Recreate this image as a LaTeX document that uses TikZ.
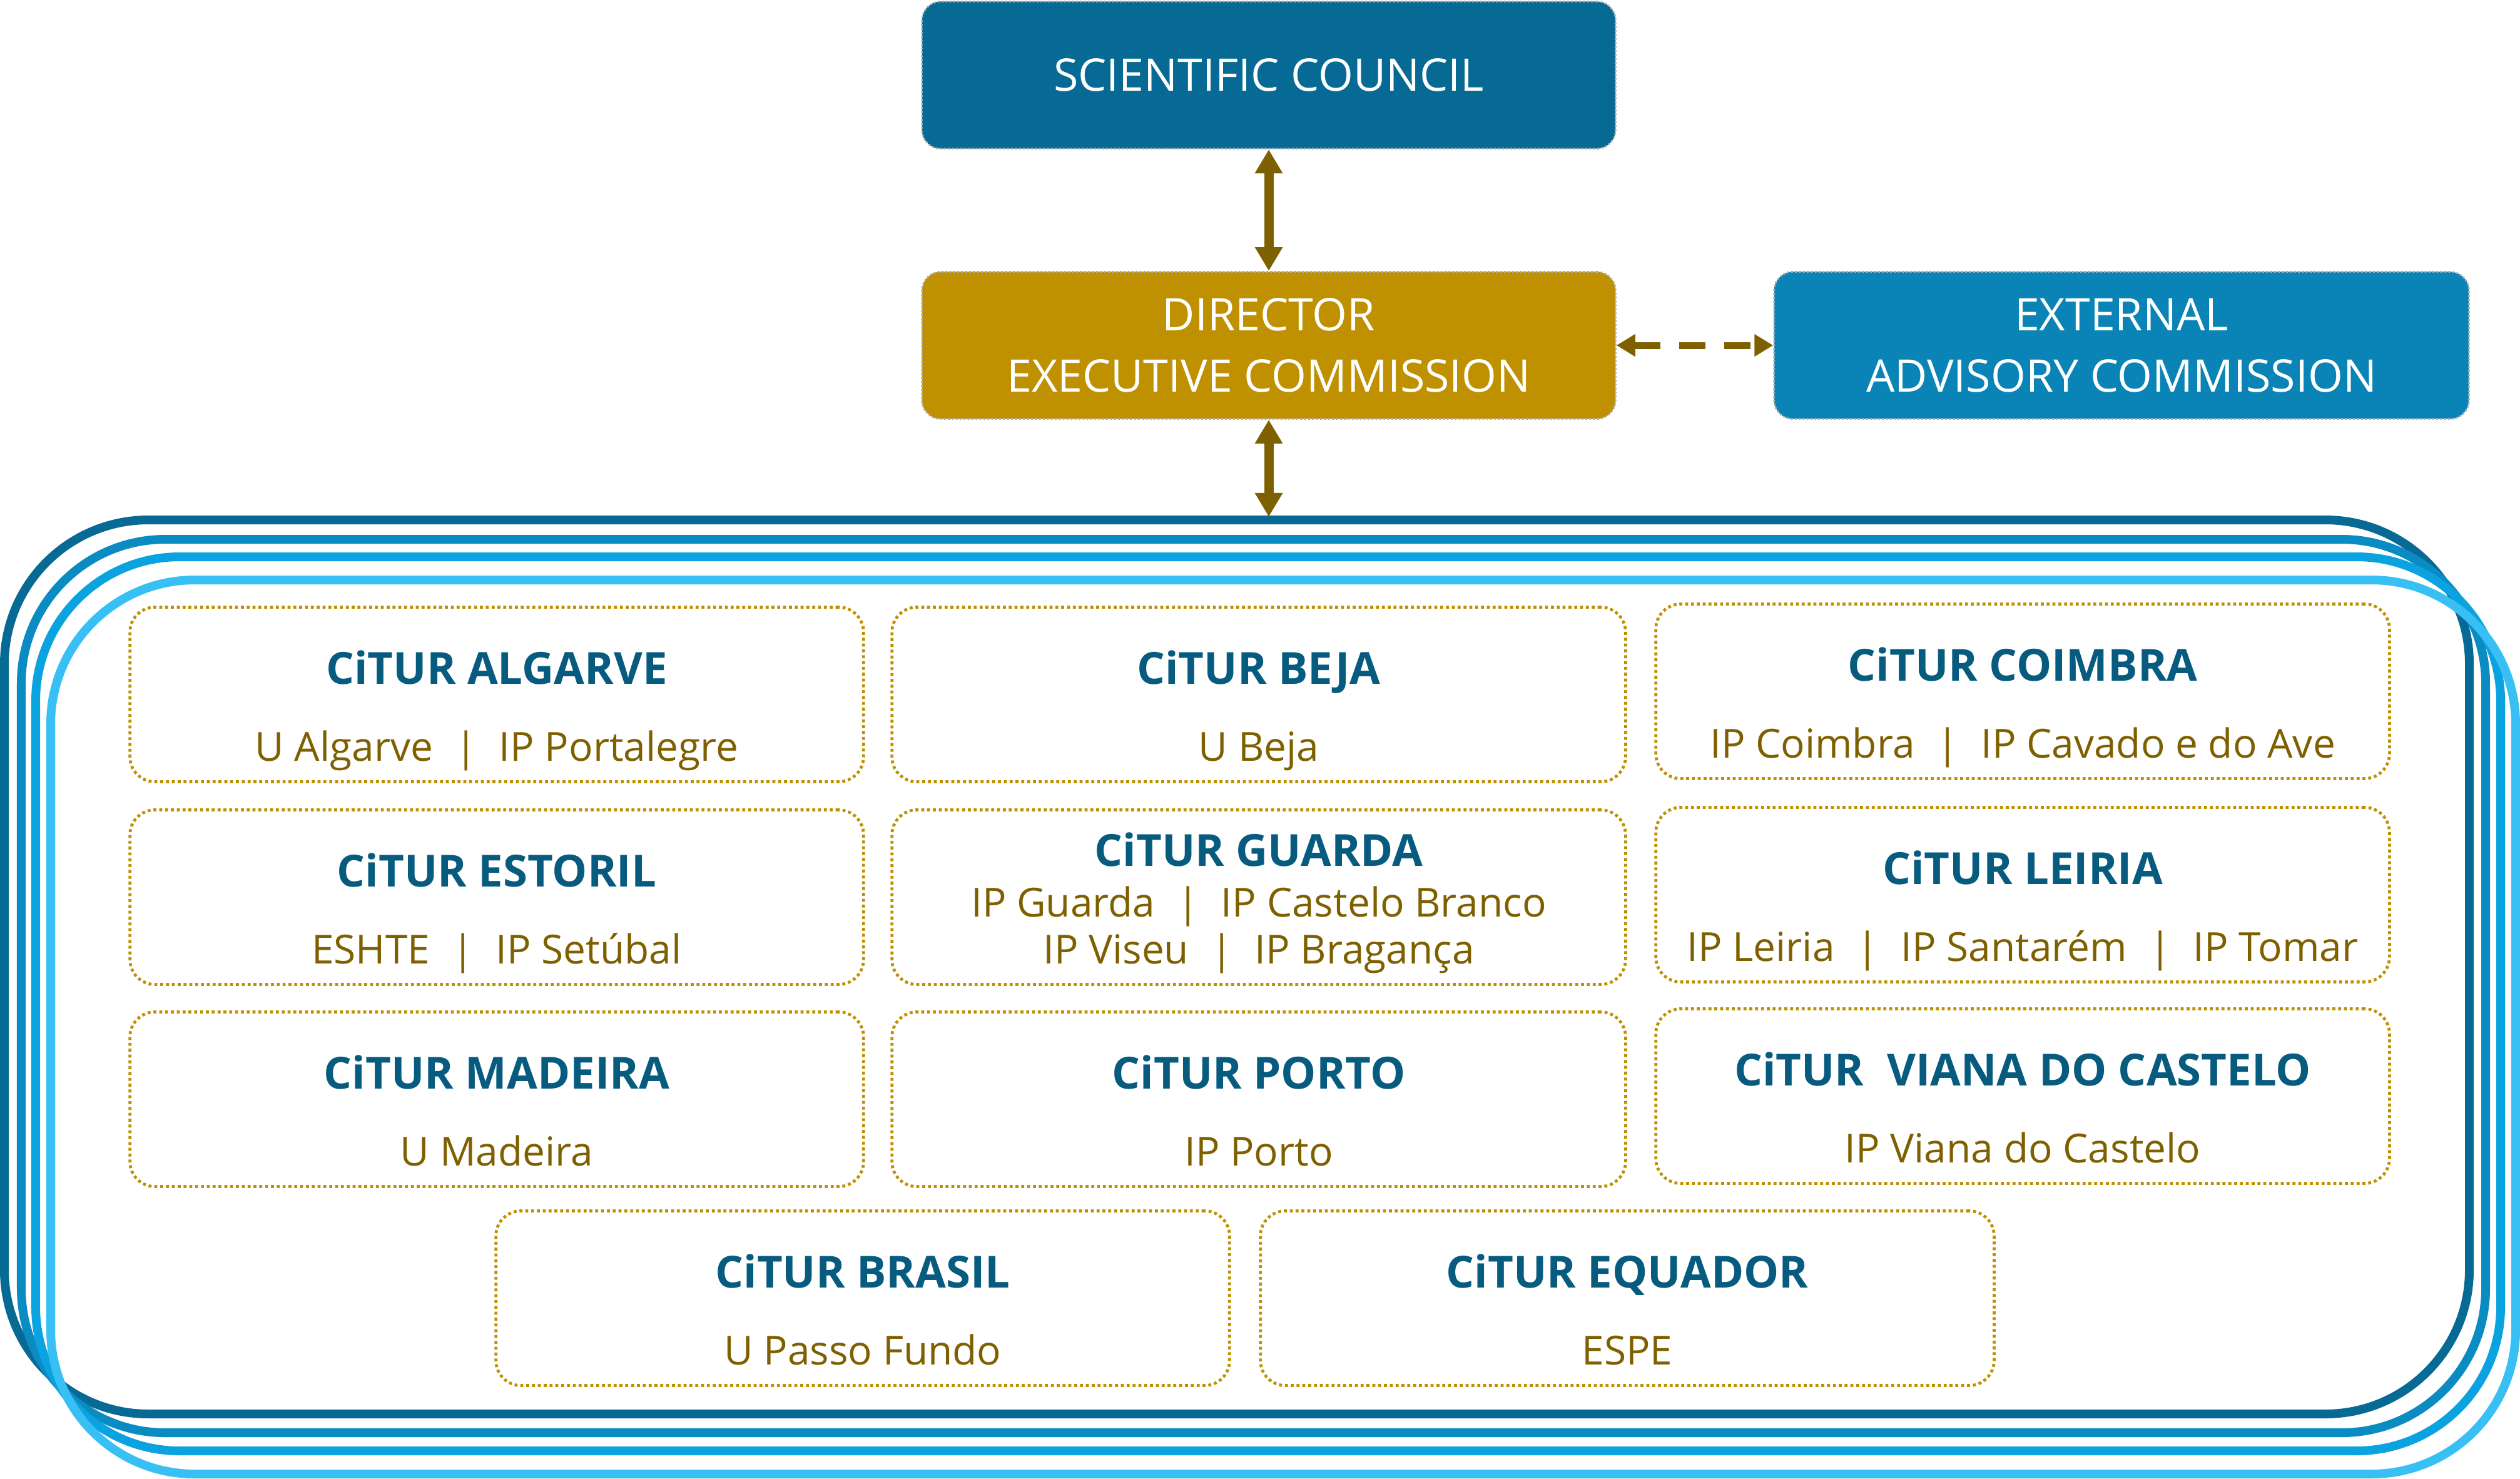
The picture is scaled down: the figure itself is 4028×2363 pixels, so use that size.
\documentclass[tikz,border=0pt]{standalone}
\usepackage{fontspec}
\setmainfont{Open Sans}
\usepackage{tikz}
\usetikzlibrary{arrows.meta,positioning,calc}
\definecolor{CouncilBlue}{HTML}{076A94}
\definecolor{AdvisoryBlue}{HTML}{0A84B6}
\definecolor{DirectorGold}{HTML}{BF9000}
\definecolor{ArrowBrown}{HTML}{7F6000}
\definecolor{PoleBlue}{HTML}{075B7F}
\definecolor{FrameA}{HTML}{076A94}
\definecolor{FrameB}{HTML}{0A8BC2}
\definecolor{FrameC}{HTML}{0AA3E0}
\definecolor{FrameD}{HTML}{38C0F5}
\newcommand{\polesep}{\hspace{0.55em}|\hspace{0.55em}}
\tikzset{
  headbox/.style={draw=gray!65,densely dotted,line width=0.8pt,rounded corners=0.3cm,
    text=white,font=\fontsize{20.4}{28}\selectfont,align=center,
    minimum width=11.08cm,minimum height=2.35cm,inner sep=0pt},
  polebox/.style={draw=DirectorGold,line width=1.35pt,dash pattern=on 1.35pt off 1.3pt,
    rounded corners=0.4cm,minimum width=11.72cm,minimum height=2.79cm,inner sep=0pt},
  poletitle/.style={font=\fontsize{20.1}{24}\selectfont\bfseries,text=PoleBlue,inner sep=0pt,anchor=base},
  polesub/.style={font=\fontsize{18.2}{21}\selectfont,text=ArrowBrown,inner sep=0pt,anchor=base},
  poleframe/.style={line width=0.14cm,rounded corners=2.3cm},
  biarrow/.style={ArrowBrown,line width=0.15cm,
    {Triangle[width=0.42cm,length=0.38cm]}-{Triangle[width=0.42cm,length=0.38cm]}},
  dasharrow/.style={ArrowBrown,line width=0.11cm,dash pattern=on 0.42cm off 0.3cm,
    {Triangle[width=0.34cm,length=0.3cm]}-{Triangle[width=0.34cm,length=0.3cm]}}
}
\begin{document}
\begin{tikzpicture}[x=0.01cm,y=-0.01cm]
  \useasboundingbox (0,0) rectangle (4028,2363);
  % network frames
  \draw[poleframe,FrameA] (7,831) rectangle (3947,2260);
  \draw[poleframe,FrameB] (34,862) rectangle (3973,2290);
  \draw[poleframe,FrameC] (57,890) rectangle (3997,2319);
  \draw[poleframe,FrameD] (81,927) rectangle (4021,2356);
  % governing bodies
  \node[headbox,fill=CouncilBlue] (council) at (2028,120) {SCIENTIFIC COUNCIL};
  \node[headbox,fill=DirectorGold] (director) at (2028,552) {DIRECTOR\\EXECUTIVE COMMISSION};
  \node[headbox,fill=AdvisoryBlue,minimum width=11.1cm] (advisory) at (3391,552) {EXTERNAL\\ADVISORY COMMISSION};
  \coordinate (frametop) at (2028,826);
  \draw[biarrow] (council) -- (director);
  \draw[biarrow] (director) -- (frametop);
  \draw[dasharrow] (director) -- (advisory);
  % poles, row 1
  \node[polebox] (algarve) at (794,1110) {};
  \node[poletitle] (algarveT) at ($(algarve.north)+(0,125)$) {CiTUR ALGARVE};
  \node[polesub] (algarveS) at ($(algarve.north)+(0,248)$) {U Algarve\polesep IP Portalegre};
  \node[polebox] (beja) at (2012,1110) {};
  \node[poletitle] (bejaT) at ($(beja.north)+(0,125)$) {CiTUR BEJA};
  \node[polesub] (bejaS) at ($(beja.north)+(0,248)$) {U Beja};
  \node[polebox] (coimbra) at (3233,1105) {};
  \node[poletitle] (coimbraT) at ($(coimbra.north)+(0,125)$) {CiTUR COIMBRA};
  \node[polesub] (coimbraS) at ($(coimbra.north)+(0,248)$) {IP Coimbra\polesep IP Cavado e do Ave};
  % row 2
  \node[polebox] (estoril) at (794,1434) {};
  \node[poletitle] (estorilT) at ($(estoril.north)+(0,125)$) {CiTUR ESTORIL};
  \node[polesub] (estorilS) at ($(estoril.north)+(0,248)$) {ESHTE\polesep IP Setúbal};
  \node[polebox] (guarda) at (2012,1434) {};
  \node[poletitle] (guardaT) at ($(guarda.north)+(0,92)$) {CiTUR GUARDA};
  \node[polesub] (guardaS) at ($(guarda.north)+(0,173)$) {IP Guarda\polesep IP Castelo Branco};
  \node[polesub] (guardaR) at ($(guarda.north)+(0,248)$) {IP Viseu\polesep IP Bragança};
  \node[polebox] (leiria) at (3233,1430) {};
  \node[poletitle] (leiriaT) at ($(leiria.north)+(0,125)$) {CiTUR LEIRIA};
  \node[polesub] (leiriaS) at ($(leiria.north)+(0,248)$) {IP Leiria\polesep IP Santarém\polesep IP Tomar};
  % row 3
  \node[polebox] (madeira) at (794,1757) {};
  \node[poletitle] (madeiraT) at ($(madeira.north)+(0,125)$) {CiTUR MADEIRA};
  \node[polesub] (madeiraS) at ($(madeira.north)+(0,248)$) {U Madeira};
  \node[polebox] (porto) at (2012,1757) {};
  \node[poletitle] (portoT) at ($(porto.north)+(0,125)$) {CiTUR PORTO};
  \node[polesub] (portoS) at ($(porto.north)+(0,248)$) {IP Porto};
  \node[polebox] (viana) at (3233,1752) {};
  \node[poletitle] (vianaT) at ($(viana.north)+(0,125)$) {CiTUR\ \ VIANA DO CASTELO};
  \node[polesub] (vianaS) at ($(viana.north)+(0,248)$) {IP Viana do Castelo};
  % row 4
  \node[polebox] (brasil) at (1379,2075) {};
  \node[poletitle] (brasilT) at ($(brasil.north)+(0,125)$) {CiTUR BRASIL};
  \node[polesub] (brasilS) at ($(brasil.north)+(0,248)$) {U Passo Fundo};
  \node[polebox] (equador) at (2601,2075) {};
  \node[poletitle] (equadorT) at ($(equador.north)+(0,125)$) {CiTUR EQUADOR};
  \node[polesub] (equadorS) at ($(equador.north)+(0,248)$) {ESPE};
\end{tikzpicture}
\end{document}
